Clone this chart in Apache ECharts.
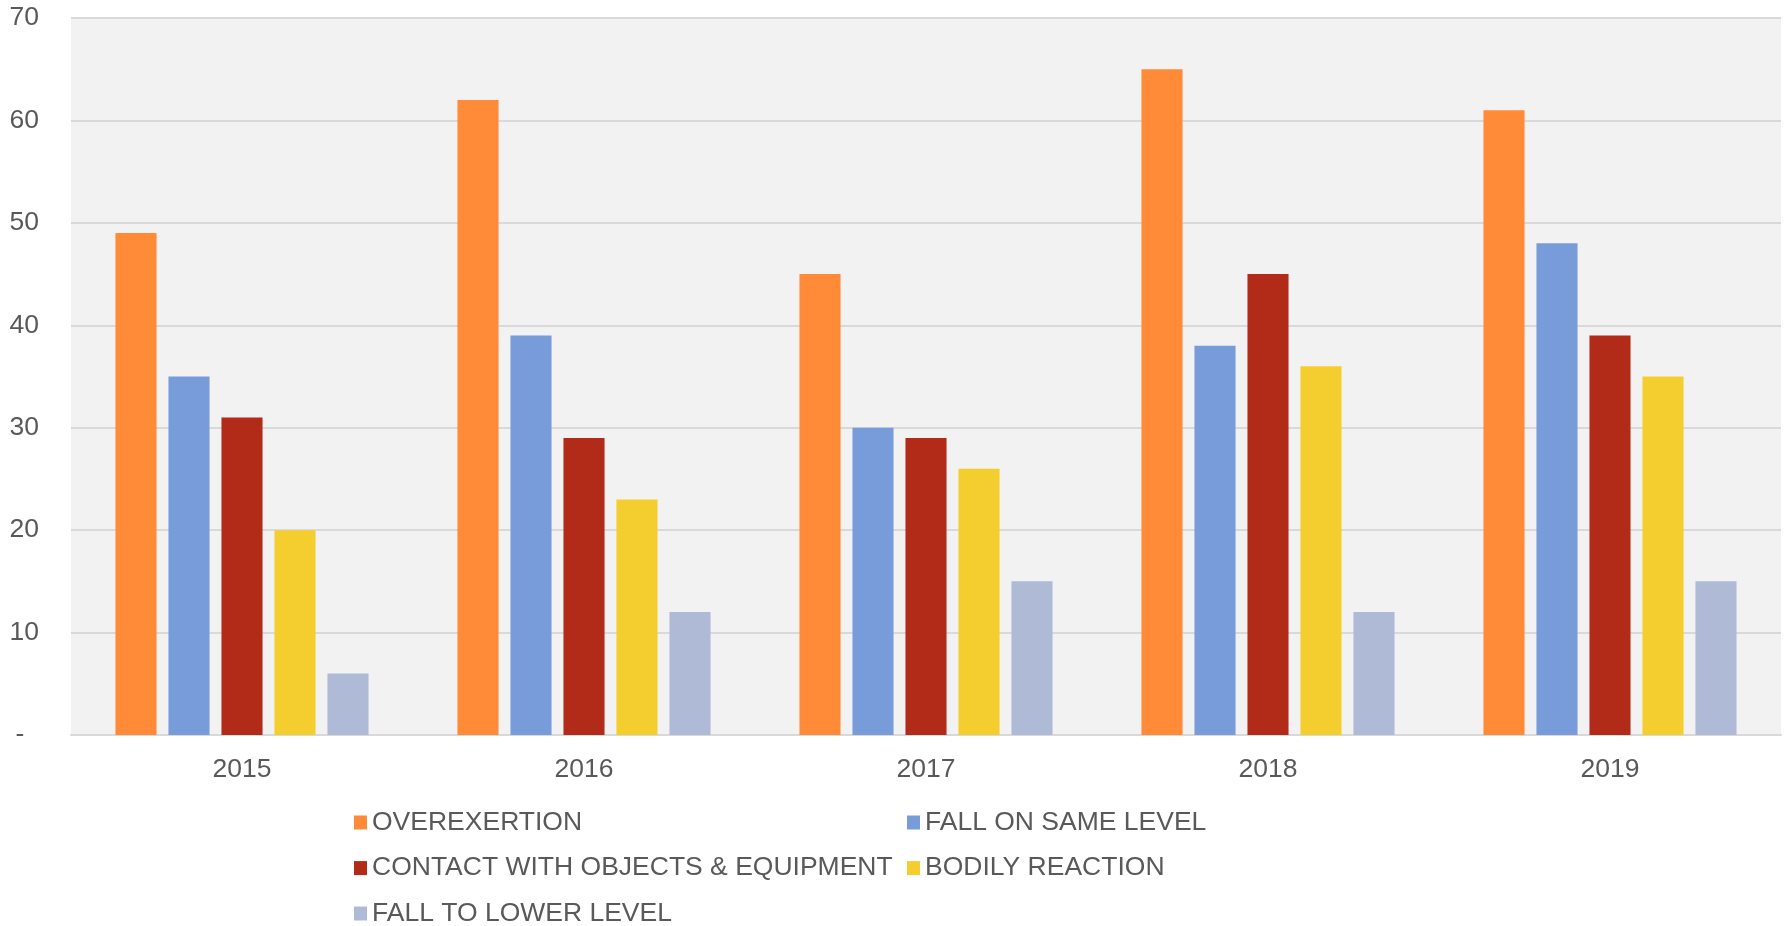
<!DOCTYPE html>
<html>
<head>
<meta charset="utf-8">
<script src="https://cdn.jsdelivr.net/npm/echarts@6/dist/echarts.min.js"></script>
<style>
html,body{margin:0;padding:0;background:#fff;}
#chart{width:1787px;height:926px;}
</style>
</head>
<body>
<div id="chart"></div>
<script>
const years = ['2015', '2016', '2017', '2018', '2019'];
const seriesNames = ['OVEREXERTION', 'FALL ON SAME LEVEL', 'CONTACT WITH OBJECTS & EQUIPMENT', 'BODILY REACTION', 'FALL TO LOWER LEVEL'];
const overexertion = [49, 62, 45, 65, 61];
const fallSameLevel = [35, 39, 30, 38, 48];
const contactObjects = [31, 29, 29, 45, 39];
const bodilyReaction = [20, 23, 26, 36, 35];
const fallLowerLevel = [6, 12, 15, 12, 15];
const colors = ['#FF8A38', '#789CD9', '#B22B18', '#F4CD2F', '#AEBAD6'];

const values = [overexertion, fallSameLevel, contactObjects, bodilyReaction, fallLowerLevel];
const font = 'Liberation Sans, Arial, sans-serif';
const chart = echarts.init(document.getElementById('chart'));
const legendText = { color: '#595959', fontSize: 26.5, fontFamily: font };
// legend slot positions: [left, top] for each series, in series order
const legendSlots = [[354, 809], [907, 809], [354, 854.6], [907, 854.6], [354, 900]];
chart.setOption({
  animation: false,
  backgroundColor: '#ffffff',
  grid: { left: 71, right: 6, top: 18, bottom: 191, show: true, backgroundColor: '#F2F2F2', borderWidth: 0 },
  legend: seriesNames.map((n, i) => ({
    data: [n], left: legendSlots[i][0], top: legendSlots[i][1], padding: 0,
    itemWidth: 13, itemHeight: 14, icon: 'rect', textStyle: legendText
  })),
  xAxis: {
    type: 'category', data: years,
    axisLine: { lineStyle: { color: '#D9D9D9', width: 2 } },
    axisTick: { show: false },
    axisLabel: { color: '#595959', fontSize: 26.5, fontFamily: font, margin: 21 }
  },
  yAxis: {
    type: 'value', min: 0, max: 70, interval: 10,
    axisLine: { show: false }, axisTick: { show: false },
    splitLine: { lineStyle: { color: '#D9D9D9', width: 2 } },
    axisLabel: { color: '#595959', fontSize: 26.5, fontFamily: font, margin: 32,
      formatter: v => v === 0 ? '-  ' : String(v) }
  },
  series: seriesNames.map((n, i) => ({
    name: n, type: 'bar', data: values[i],
    barGap: '29%', barCategoryGap: '26%',
    itemStyle: { color: colors[i] }
  }))
});
</script>
</body>
</html>
